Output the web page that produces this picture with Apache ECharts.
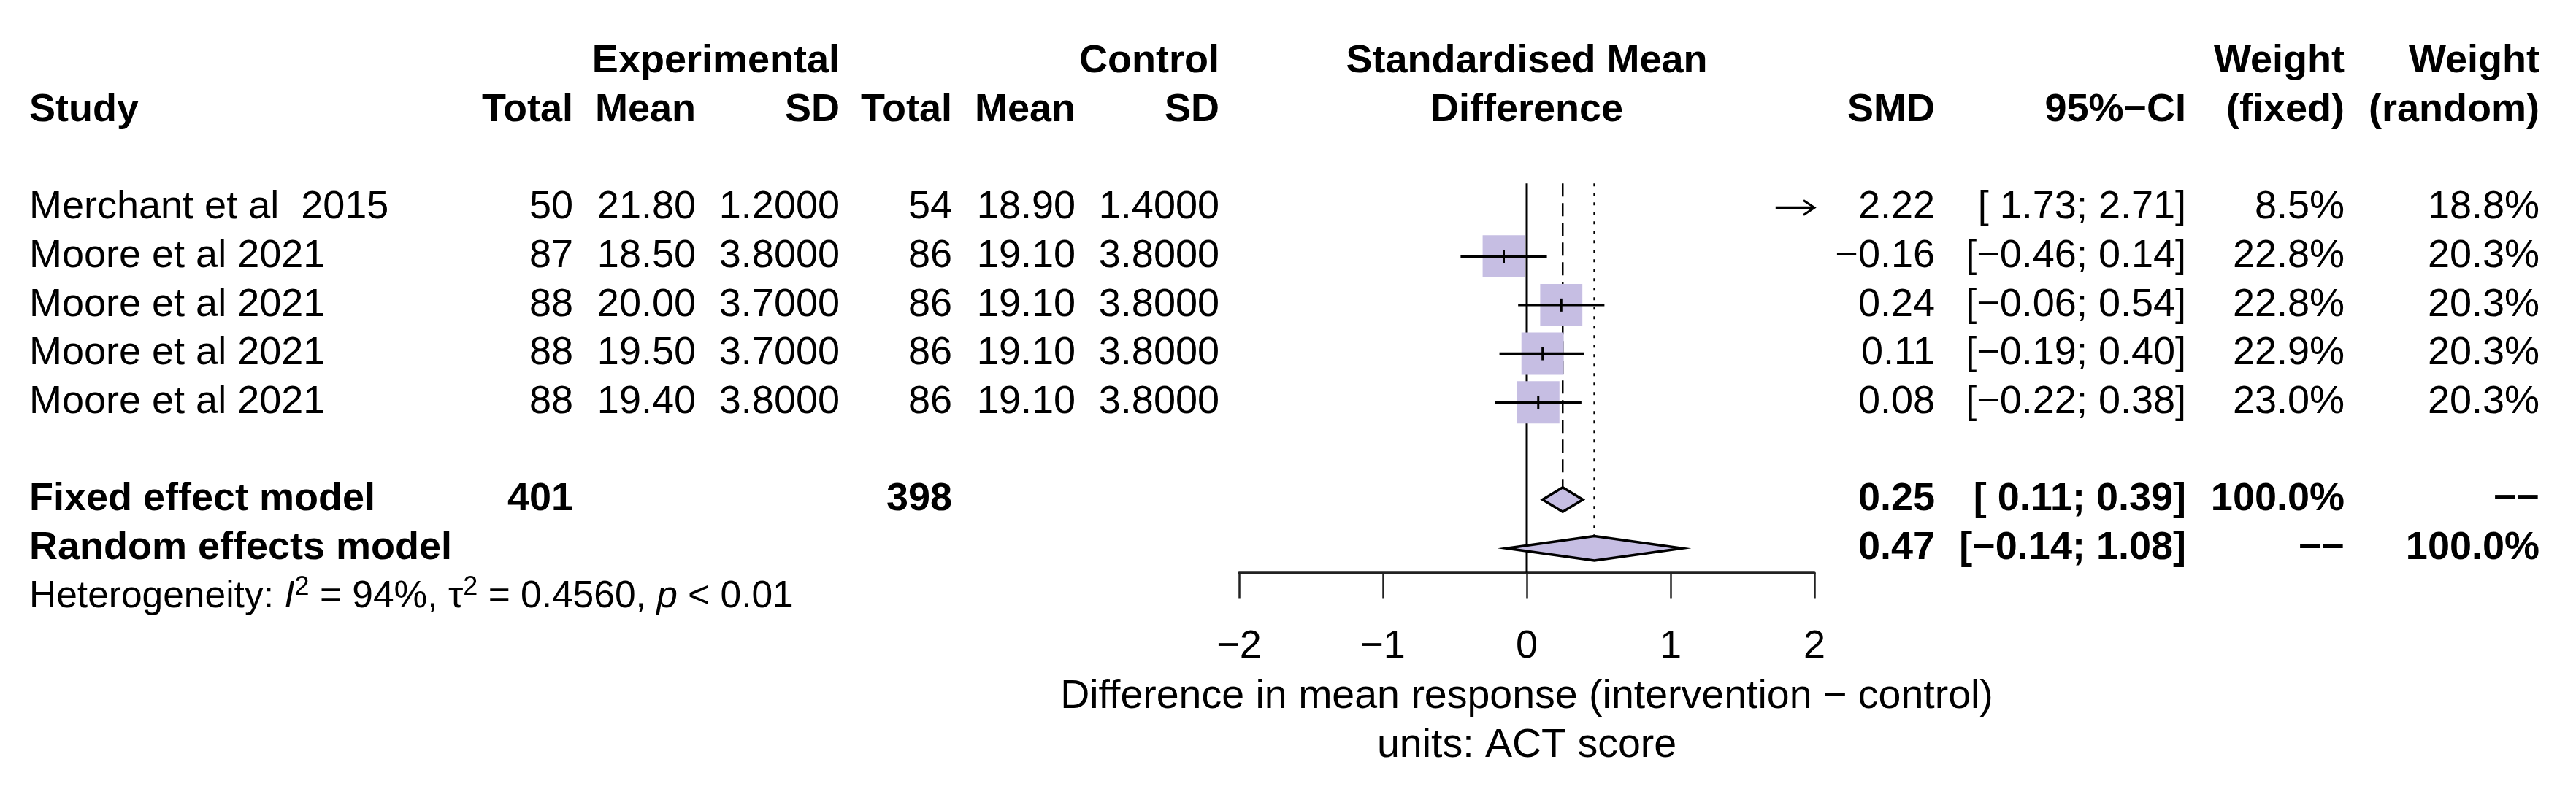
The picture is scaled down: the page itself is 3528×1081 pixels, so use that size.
<!DOCTYPE html>
<html><head><meta charset="utf-8">
<script src="https://cdn.jsdelivr.net/npm/echarts@6/dist/echarts.min.js"></script>
<style>html,body{margin:0;padding:0;background:#fff}#c{width:3528px;height:1081px}</style>
</head><body><div id="c"></div>
<script>
// ---------------- data ----------------
const studies = ['Merchant et al  2015', 'Moore et al 2021', 'Moore et al 2021', 'Moore et al 2021', 'Moore et al 2021'];
const expTotal = [50, 87, 88, 88, 88];
const expMean = [21.80, 18.50, 20.00, 19.50, 19.40];
const expSD = [1.2, 3.8, 3.7, 3.7, 3.8];
const ctrlTotal = [54, 86, 86, 86, 86];
const ctrlMean = [18.90, 19.10, 19.10, 19.10, 19.10];
const ctrlSD = [1.4, 3.8, 3.8, 3.8, 3.8];
const smd = [2.22, -0.16, 0.24, 0.11, 0.08];
const ciLower = [1.73, -0.46, -0.06, -0.19, -0.22];
const ciUpper = [2.71, 0.14, 0.54, 0.40, 0.38];
const weightFixed = [8.5, 22.8, 22.8, 22.9, 23.0];
const weightRandom = [18.8, 20.3, 20.3, 20.3, 20.3];
const modelNames = ['Fixed effect model', 'Random effects model'];
const modelSMD = [0.25, 0.47];
const modelLower = [0.11, -0.14];
const modelUpper = [0.39, 1.08];
const modelWeightFixed = ['100.0%', '\u2212\u2212'];
const modelWeightRandom = ['\u2212\u2212', '100.0%'];
const totalExp = 401;
const totalCtrl = 398;
const hetI2 = '94%';
const hetTau2 = '0.4560';
const hetP = '< 0.01';
const xTicks = [-2, -1, 0, 1, 2];
const nullEffect = 0;
const axisTitle = ['Difference in mean response (intervention \u2212 control)', 'units: ACT score'];

// ---------------- layout / style ----------------
const FONT = '"Liberation Sans", Arial, Helvetica, sans-serif';
const FS = 54;
const FS_AXIS = 55.5;
const FS_HET = 51.5;
const ROW0 = 84.5, ROWH = 66.67;
const studyRows = [3, 4, 5, 6, 7];
const modelRows = [9, 10];
const hetRow = 11;
const Y_TOP = 2.5, Y_BOT = 10.5;
const COL = {study: 40, eTot: 785, eMean: 953, eSD: 1150, cTot: 1304, cMean: 1473, cSD: 1670,
             smd: 2650, ci: 2994, wf: 3211, wr: 3478};
const SQUARE_FILL = '#C6BEE3';
const DIAMOND_FILL = '#C6BEE3';
const SQUARE_K = 12.1;
const XMIN = xTicks[0], XMAX = xTicks[xTicks.length - 1];

const minus = v => (v < 0 ? '\u2212' : '') + Math.abs(v);
const fmt = (v, d) => (v < 0 ? '\u2212' : '') + Math.abs(v).toFixed(d);
const fmtLo = v => (v < 0 ? '' : ' ') + fmt(v, 2);
const ciText = (lo, hi) => '[' + fmtLo(lo) + '; ' + fmt(hi, 2) + ']';

function renderStudy(params, api) {
  const est = api.value(0), r = api.value(1), lo = api.value(2), hi = api.value(3), w = api.value(4);
  const c = api.coord([est, r]);
  const a = api.coord([Math.max(lo, XMIN), r]);
  const b = api.coord([Math.min(hi, XMAX), r]);
  const ch = [];
  const inRange = est >= XMIN && est <= XMAX;
  if (inRange) {
    const s = SQUARE_K * Math.sqrt(w);
    ch.push({type: 'rect', shape: {x: c[0] - s / 2, y: c[1] - s / 2, width: s, height: s},
             style: {fill: SQUARE_FILL}});
  }
  ch.push({type: 'line', shape: {x1: a[0], y1: a[1], x2: b[0], y2: b[1]},
           style: {stroke: '#000', lineWidth: 3.5}});
  if (inRange) {
    ch.push({type: 'line', shape: {x1: c[0], y1: c[1] - 9, x2: c[0], y2: c[1] + 9},
             style: {stroke: '#000', lineWidth: 3}});
  }
  if (hi > XMAX) {
    ch.push({type: 'polyline', shape: {points: [[b[0] - 15, b[1] - 10], [b[0], b[1]], [b[0] - 15, b[1] + 10]]},
             style: {stroke: '#000', lineWidth: 3, fill: null}});
  }
  if (lo < XMIN) {
    ch.push({type: 'polyline', shape: {points: [[a[0] + 15, a[1] - 10], [a[0], a[1]], [a[0] + 15, a[1] + 10]]},
             style: {stroke: '#000', lineWidth: 3, fill: null}});
  }
  return {type: 'group', children: ch};
}

function renderDiamond(params, api) {
  const est = api.value(0), r = api.value(1), lo = api.value(2), hi = api.value(3);
  const p1 = api.coord([lo, r]), p2 = api.coord([est, r - 0.25]),
        p3 = api.coord([hi, r]), p4 = api.coord([est, r + 0.25]);
  return {type: 'polygon', shape: {points: [p1, p2, p3, p4]},
          style: {fill: DIAMOND_FILL, stroke: '#000', lineWidth: 3.5, lineJoin: 'miter'}};
}

const studyData = smd.map((v, i) => [v, studyRows[i], ciLower[i], ciUpper[i], weightFixed[i]]);
const modelData = modelSMD.map((v, i) => [v, modelRows[i], modelLower[i], modelUpper[i]]);

const gridTop = ROW0 + Y_TOP * ROWH;
const gridH = (Y_BOT - Y_TOP) * ROWH;

const option = {
  animation: false,
  backgroundColor: '#fff',
  grid: {left: 1697, width: 788, top: gridTop, height: gridH, containLabel: false},
  xAxis: {
    type: 'value', min: XMIN, max: XMAX, interval: 1,
    axisLine: {show: true, onZero: false, lineStyle: {color: '#222', width: 3.5}},
    axisTick: {show: true, length: 35, lineStyle: {color: '#222', width: 2.5}},
    splitLine: {show: false},
    axisLabel: {fontSize: FS, fontFamily: FONT, color: '#000', margin: 102, verticalAlign: 'middle',
                formatter: v => minus(v)},
    name: axisTitle.join('\n'), nameLocation: 'middle', nameGap: 137,
    nameTextStyle: {fontSize: FS_AXIS, fontFamily: FONT, color: '#000', lineHeight: ROWH, verticalAlign: 'top'}
  },
  yAxis: {type: 'value', inverse: true, min: Y_TOP, max: Y_BOT, show: false},
  series: [
    {type: 'line', silent: true, symbol: 'none', data: [[nullEffect, Y_TOP], [nullEffect, Y_BOT]],
     lineStyle: {color: '#000', width: 3}, z: 1},
    {type: 'line', silent: true, symbol: 'none', data: [[modelSMD[0], Y_TOP], [modelSMD[0], modelRows[0] - 0.25]],
     lineStyle: {color: '#000', width: 2.5, type: [18, 9]}, z: 1},
    {type: 'line', silent: true, symbol: 'none', data: [[modelSMD[1], Y_TOP], [modelSMD[1], modelRows[1] - 0.25]],
     lineStyle: {color: '#000', width: 2.5, type: [4, 9]}, z: 1},
    {type: 'custom', renderItem: renderStudy, data: studyData, encode: {x: 0, y: 1}, clip: false, z: 3},
    {type: 'custom', renderItem: renderDiamond, data: modelData, encode: {x: 0, y: 1}, clip: false, z: 3}
  ]
};

const chart = echarts.init(document.getElementById('c'), null, {renderer: 'canvas'});
chart.setOption(option);

const yPix = r => chart.convertToPixel({yAxisIndex: 0}, r);
const xMid = chart.convertToPixel({xAxisIndex: 0}, (XMIN + XMAX) / 2);

const g = [];
function txt(x, r, s, align, bold) {
  g.push({type: 'text', x: x, y: yPix(r), silent: true,
          style: {text: s, fontSize: FS, fontFamily: FONT, fontWeight: bold ? 'bold' : 'normal',
                  fill: '#000', align: align, verticalAlign: 'middle'}});
}
// headers
txt(COL.eSD, 0, 'Experimental', 'right', true);
txt(COL.cSD, 0, 'Control', 'right', true);
txt(xMid, 0, 'Standardised Mean', 'center', true);
txt(COL.wf, 0, 'Weight', 'right', true);
txt(COL.wr, 0, 'Weight', 'right', true);
txt(COL.study, 1, 'Study', 'left', true);
txt(COL.eTot, 1, 'Total', 'right', true);
txt(COL.eMean, 1, 'Mean', 'right', true);
txt(COL.eSD, 1, 'SD', 'right', true);
txt(COL.cTot, 1, 'Total', 'right', true);
txt(COL.cMean, 1, 'Mean', 'right', true);
txt(COL.cSD, 1, 'SD', 'right', true);
txt(xMid, 1, 'Difference', 'center', true);
txt(COL.smd, 1, 'SMD', 'right', true);
txt(COL.ci, 1, '95%\u2212CI', 'right', true);
txt(COL.wf, 1, '(fixed)', 'right', true);
txt(COL.wr, 1, '(random)', 'right', true);
// studies
studies.forEach((s, i) => {
  const r = studyRows[i];
  txt(COL.study, r, s, 'left', false);
  txt(COL.eTot, r, String(expTotal[i]), 'right', false);
  txt(COL.eMean, r, expMean[i].toFixed(2), 'right', false);
  txt(COL.eSD, r, expSD[i].toFixed(4), 'right', false);
  txt(COL.cTot, r, String(ctrlTotal[i]), 'right', false);
  txt(COL.cMean, r, ctrlMean[i].toFixed(2), 'right', false);
  txt(COL.cSD, r, ctrlSD[i].toFixed(4), 'right', false);
  txt(COL.smd, r, fmt(smd[i], 2), 'right', false);
  txt(COL.ci, r, ciText(ciLower[i], ciUpper[i]), 'right', false);
  txt(COL.wf, r, weightFixed[i].toFixed(1) + '%', 'right', false);
  txt(COL.wr, r, weightRandom[i].toFixed(1) + '%', 'right', false);
});
// models
modelNames.forEach((s, i) => {
  const r = modelRows[i];
  txt(COL.study, r, s, 'left', true);
  txt(COL.smd, r, fmt(modelSMD[i], 2), 'right', true);
  txt(COL.ci, r, ciText(modelLower[i], modelUpper[i]), 'right', true);
  txt(COL.wf, r, modelWeightFixed[i], 'right', true);
  txt(COL.wr, r, modelWeightRandom[i], 'right', true);
});
txt(COL.eTot, modelRows[0], String(totalExp), 'right', true);
txt(COL.cTot, modelRows[0], String(totalCtrl), 'right', true);
// heterogeneity
g.push({type: 'text', x: COL.study, y: yPix(hetRow), silent: true,
  style: {
    text: '{n|Heterogeneity: }{i|I}{s|2}{n| = ' + hetI2 + ', \u03c4}{s|2}{n| = ' + hetTau2 + ', }{i|p}{n| ' + hetP + '}',
    align: 'left', verticalAlign: 'middle', fill: '#000', fontFamily: FONT,
    rich: {
      n: {fontSize: FS_HET, fontFamily: FONT, lineHeight: 62, fill: '#000'},
      i: {fontSize: FS_HET, fontFamily: FONT, fontStyle: 'italic', lineHeight: 62, fill: '#000'},
      s: {fontSize: 36, fontFamily: FONT, lineHeight: 30, verticalAlign: 'top', fill: '#000'}
    }
  }});

chart.setOption({graphic: g});
</script>
</body></html>
